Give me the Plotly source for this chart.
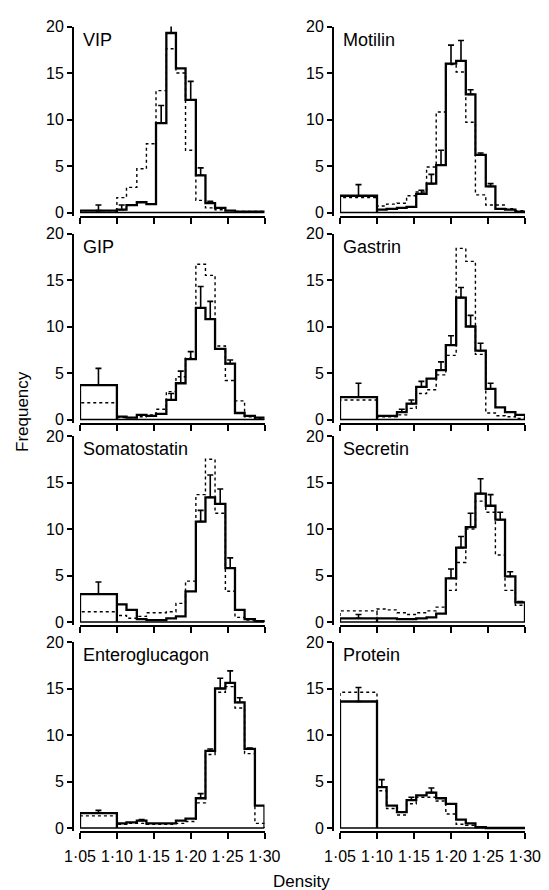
import plotly.graph_objects as go

# ---------------- data ----------------
DENSITY_EDGES = [1.05, 1.10, 1.113, 1.127, 1.140, 1.153, 1.167, 1.180, 1.193,
                 1.207, 1.220, 1.233, 1.247, 1.260, 1.273, 1.287, 1.30]
X_TICKS = [1.05, 1.10, 1.15, 1.20, 1.25, 1.30]
X_TICK_LABELS = ["1·05", "1·10", "1·15", "1·20", "1·25", "1·30"]
Y_TICKS = [0, 5, 10, 15, 20]

PANEL_NAMES = ["VIP", "Motilin", "GIP", "Gastrin",
               "Somatostatin", "Secretin", "Enteroglucagon", "Protein"]

vip_solid = [0.2, 0.3, 0.8, 1.1, 0.9, 9.6, 19.3, 15.5, 12.1, 4.0, 1.0, 0.5, 0.2, 0.1, 0.1, 0.1]
vip_dashed = [0.2, 1.6, 2.7, 4.7, 7.4, 13.1, 17.6, 15.0, 6.7, 1.3, 0.5, 0.3, 0.2, 0.1, 0.1, 0.1]
vip_err = [0.6, 0.5, 0, 0, 0, 1.9, 2.7, 0, 2.0, 0.8, 0.2, 0, 0, 0, 0, 0]

motilin_solid = [1.8, 0.3, 0.4, 0.5, 0.6, 2.0, 3.1, 5.1, 16.0, 16.3, 12.7, 6.2, 2.8, 0.4, 0.3, 0.1]
motilin_dashed = [1.6, 0.7, 0.9, 1.0, 1.8, 2.2, 4.9, 10.8, 15.9, 15.1, 9.7, 1.9, 0.8, 0.8, 0.4, 0.2]
motilin_err = [1.2, 0, 0, 0, 0, 0.4, 1.0, 1.6, 2.0, 2.2, 0.5, 0.2, 0.3, 0, 0, 0]

gip_solid = [3.7, 0.3, 0.2, 0.5, 0.4, 0.6, 2.1, 3.9, 6.5, 12.0, 10.8, 7.6, 6.0, 0.7, 0.4, 0.2]
gip_dashed = [1.8, 0.2, 0.2, 0.3, 0.5, 1.1, 3.0, 4.6, 6.6, 16.7, 15.5, 7.9, 4.2, 2.0, 0.3, 0.1]
gip_err = [1.8, 0, 0, 0, 0, 0, 0.7, 1.3, 0.8, 2.3, 1.9, 0, 0.4, 0, 0, 0]

gastrin_solid = [2.4, 0.4, 0.4, 0.8, 1.7, 3.5, 4.4, 5.3, 8.0, 13.1, 10.0, 7.4, 3.3, 1.3, 0.8, 0.5]
gastrin_dashed = [2.1, 0.3, 0.3, 0.5, 1.2, 2.8, 3.2, 4.8, 6.9, 18.4, 17.0, 7.0, 0.7, 0.4, 0.3, 0.1]
gastrin_err = [1.5, 0, 0, 0.3, 0.4, 0.6, 0, 0.9, 1.0, 1.1, 1.2, 0.8, 0.6, 0, 0, 0]

somatostatin_solid = [3.0, 1.9, 1.3, 0.3, 0.2, 0.2, 0.4, 0.6, 3.3, 10.8, 13.4, 12.7, 5.8, 1.3, 0.3, 0.1]
somatostatin_dashed = [1.1, 0.7, 0.4, 0.6, 1.0, 1.0, 1.1, 2.0, 4.4, 13.7, 17.5, 11.7, 3.3, 0.5, 0.2, 0.1]
somatostatin_err = [1.3, 0, 0, 0, 0, 0, 0, 0, 0, 1.2, 2.4, 1.6, 1.1, 0, 0, 0]

secretin_solid = [0.4, 0.4, 0.4, 0.3, 0.3, 0.4, 0.5, 0.9, 4.7, 8.0, 10.2, 13.8, 12.5, 11.0, 4.9, 2.1]
secretin_dashed = [1.2, 1.4, 1.3, 1.0, 0.8, 1.0, 1.2, 1.6, 3.4, 6.4, 10.0, 13.0, 11.8, 7.2, 3.4, 1.8]
secretin_err = [0.4, 0, 0, 0, 0, 0, 0, 0, 1.0, 1.2, 1.5, 1.6, 1.2, 0.8, 0.5, 0.1]

enteroglucagon_solid = [1.6, 0.5, 0.6, 0.8, 0.5, 0.5, 0.5, 0.8, 1.0, 3.2, 8.3, 15.0, 15.6, 13.5, 8.5, 2.4]
enteroglucagon_dashed = [1.3, 0.4, 0.5, 0.5, 0.4, 0.4, 0.4, 0.5, 0.7, 2.7, 7.9, 14.6, 15.2, 12.9, 8.0, 0.5]
enteroglucagon_err = [0.3, 0, 0, 0.1, 0, 0, 0, 0, 0, 0.5, 0.2, 1.1, 1.3, 0.5, 0.1, 0]

protein_solid = [13.6, 4.4, 2.4, 1.7, 3.0, 3.5, 3.8, 3.2, 2.6, 0.9, 0.5, 0.1, 0, 0, 0, 0]
protein_dashed = [14.6, 4.0, 2.1, 1.4, 2.6, 3.3, 3.3, 2.9, 1.5, 0.4, 0.3, 0.05, 0, 0, 0, 0]
protein_err = [1.5, 0.8, 0, 0, 0.3, 0, 0.5, 0, 0, 0, 0, 0, 0, 0, 0, 0]

SOLID = [vip_solid, motilin_solid, gip_solid, gastrin_solid,
         somatostatin_solid, secretin_solid, enteroglucagon_solid, protein_solid]
DASHED = [vip_dashed, motilin_dashed, gip_dashed, gastrin_dashed,
          somatostatin_dashed, secretin_dashed, enteroglucagon_dashed, protein_dashed]
ERR = [vip_err, motilin_err, gip_err, gastrin_err,
       somatostatin_err, secretin_err, enteroglucagon_err, protein_err]

# ---------------- layout geometry (pixels) ----------------
W, H = 549, 890
COL_X = [(80, 264.5), (340, 525)]
Y_AXIS_OFFSET = 7          # y-axis line sits a little left of 1.05
ROW_TOP = [26.5, 233.5, 436, 642]
PX_PER_UNIT = 9.3
YMIN, YMAX = -0.35, 20
FONT = "Liberation Sans, Arial, sans-serif"


def step_xy(vals, close_first):
    xs, ys = [DENSITY_EDGES[0]], [0]
    for i, v in enumerate(vals):
        xs += [DENSITY_EDGES[i], DENSITY_EDGES[i + 1]]
        ys += [v, v]
        if i == 0 and close_first:
            xs.append(DENSITY_EDGES[1])
            ys.append(0)
    xs.append(DENSITY_EDGES[-1])
    ys.append(0)
    return xs, ys


fig = go.Figure()
layout = dict(width=W, height=H, autosize=False,
              margin=dict(l=0, r=0, t=0, b=0, pad=0, autoexpand=False),
              paper_bgcolor="white", plot_bgcolor="white",
              showlegend=False, font=dict(family=FONT, color="black"))
annotations = []
shapes = []

for p, name in enumerate(PANEL_NAMES):
    row, col = divmod(p, 2)
    k = "" if p == 0 else str(p + 1)
    xa, ya = "x" + k, "y" + k
    x0, x1 = COL_X[col]
    top = ROW_TOP[row]
    bottom = top + (YMAX - YMIN) * PX_PER_UNIT
    bottom_row = row == 3

    layout["xaxis" + k] = dict(
        domain=[x0 / W, x1 / W], anchor=ya, range=[1.05, 1.30], automargin=False,
        showgrid=False, zeroline=False, showline=True, linewidth=2, linecolor="black",
        ticks="outside", ticklen=6, tickwidth=1.5, tickcolor="black",
        tickvals=X_TICKS, ticktext=X_TICK_LABELS, showticklabels=bottom_row,
        ticklabelstandoff=4,
        tickfont=dict(size=16, family=FONT, color="black"), fixedrange=True)
    layout["yaxis" + k] = dict(
        domain=[1 - bottom / H, 1 - top / H], anchor="free",
        position=(x0 - Y_AXIS_OFFSET) / W, range=[YMIN, YMAX],
        automargin=False,
        showgrid=False, zeroline=False, showline=True, linewidth=2, linecolor="black",
        ticks="outside", ticklen=5, tickwidth=1.5, tickcolor="black",
        tickvals=Y_TICKS, tickfont=dict(size=16, family=FONT, color="black"),
        fixedrange=True)

    # baseline of histogram
    shapes.append(dict(type="line", xref=xa, yref=ya, x0=1.05, x1=1.30, y0=0, y1=0,
                       line=dict(color="black", width=1.5)))

    dx, dy = step_xy(DASHED[p], True)
    fig.add_trace(go.Scatter(x=dx, y=dy, xaxis=xa, yaxis=ya, mode="lines",
                             line=dict(color="black", width=1.4, dash="dot"),
                             cliponaxis=False, hoverinfo="skip"))
    sx, sy = step_xy(SOLID[p], True)
    fig.add_trace(go.Scatter(x=sx, y=sy, xaxis=xa, yaxis=ya, mode="lines",
                             line=dict(color="black", width=2.3),
                             cliponaxis=False, hoverinfo="skip"))

    cx, cy, ce = [], [], []
    for i, e in enumerate(ERR[p]):
        if e > 0:
            cx.append((DENSITY_EDGES[i] + DENSITY_EDGES[i + 1]) / 2)
            cy.append(SOLID[p][i])
            ce.append(e)
    fig.add_trace(go.Scatter(x=cx, y=cy, xaxis=xa, yaxis=ya, mode="markers",
                             marker=dict(size=1, color="rgba(0,0,0,0)"),
                             error_y=dict(type="data", symmetric=False, array=ce,
                                          arrayminus=[0] * len(ce), color="black",
                                          thickness=1.6, width=3),
                             cliponaxis=False, hoverinfo="skip"))

    annotations.append(dict(text=name, xref=xa, yref=ya, x=1.051, y=18.6,
                            xanchor="left", yanchor="middle", showarrow=False,
                            font=dict(size=18, family=FONT, color="black")))

annotations.append(dict(text="Frequency", xref="paper", yref="paper",
                        x=22 / W, y=1 - 412 / H, textangle=-90, showarrow=False,
                        xanchor="center", yanchor="middle",
                        font=dict(size=17, family=FONT, color="black")))
annotations.append(dict(text="Density", xref="paper", yref="paper",
                        x=301 / W, y=1 - 881 / H, showarrow=False,
                        xanchor="center", yanchor="middle",
                        font=dict(size=17, family=FONT, color="black")))

layout["annotations"] = annotations
layout["shapes"] = shapes
fig.update_layout(**layout)
fig.write_html("out.html")
